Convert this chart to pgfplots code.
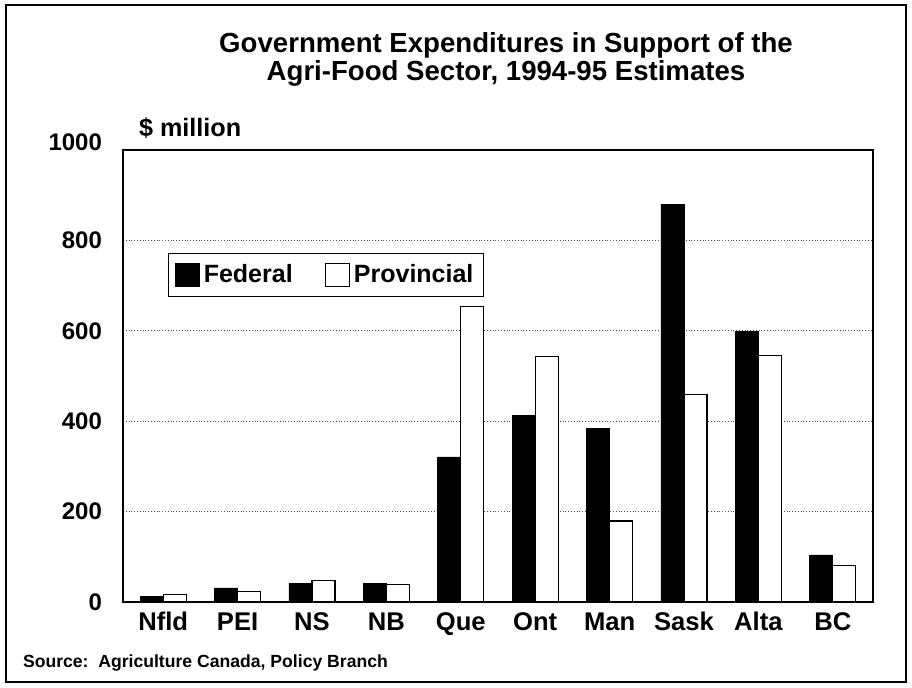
\documentclass[border=0pt]{standalone}
\usepackage{pgfplots}
\pgfplotsset{compat=1.18}
\usepackage{fontspec}
\setmainfont{Liberation Sans}
\begin{document}
\begin{tikzpicture}
\path[use as bounding box] (0,0) rectangle (456pt,343.5pt);
\draw[line width=0.8pt] (3pt,2.5pt) rectangle (453pt,341pt);
\node[font=\bfseries\fontsize{13.8}{14}\selectfont, align=center] at (253pt,314pt) {Government Expenditures in Support of the\\Agri-Food Sector, 1994-95 Estimates};
\node[font=\bfseries\fontsize{12.6}{14}\selectfont, anchor=west] at (66pt,279.5pt) {\$ million};
\node[font=\bfseries\fontsize{8.8}{10}\selectfont, anchor=west] at (8pt,12pt) {Source:\ \ Agriculture Canada, Policy Branch};
\begin{axis}[
  at={(61.5pt,42.5pt)}, anchor=south west,
  scale only axis, width=375pt, height=226pt,
  ymin=0, ymax=1000, xmin=-0.54, xmax=9.54,
  ybar=0pt, bar width=0.31,
  xtick={0,...,9},
  xticklabels={Nfld,PEI,NS,NB,Que,Ont,Man,Sask,Alta,BC},
  ytick={0,200,400,600,800},
  extra y ticks={1000},
  extra y tick style={yticklabel style={yshift=4pt}, grid=none},
  major tick length=0pt,
  tick label style={font=\bfseries\fontsize{12}{13}\selectfont},
  xticklabel style={font=\bfseries\fontsize{12.8}{14}\selectfont, text height=9.5pt, text depth=0pt, yshift=-1pt},
  /pgf/number format/assume math mode=true,
  /pgf/number format/1000 sep={},
  yticklabel style={xshift=-7pt},
  ymajorgrids, grid style={densely dotted, black!70, line width=0.4pt},
  axis line style={line width=0.7pt},
  legend columns=2,
  legend style={at={(0.06,0.772)}, anchor=north west, draw=black, line width=0.6pt,
    font=\bfseries\fontsize{12.5}{14}\selectfont, inner xsep=3pt, inner ysep=3.5pt,
    /tikz/every even column/.append style={column sep=14pt}},
  legend image code/.code={\draw[#1, line width=0.6pt] (-2pt,-5.75pt) rectangle (10pt,5.75pt);},
]
\addplot[fill=black, draw=black] coordinates {(0,12) (1,31) (2,42) (3,42) (4,321) (5,412) (6,383) (7,880) (8,598) (9,104)};
\addplot[fill=white, draw=black, line width=0.6pt] coordinates {(0,17) (1,23) (2,47) (3,39) (4,653) (5,544) (6,179) (7,459) (8,546) (9,80)};
\legend{Federal,Provincial}
\end{axis}
\end{tikzpicture}
\end{document}
